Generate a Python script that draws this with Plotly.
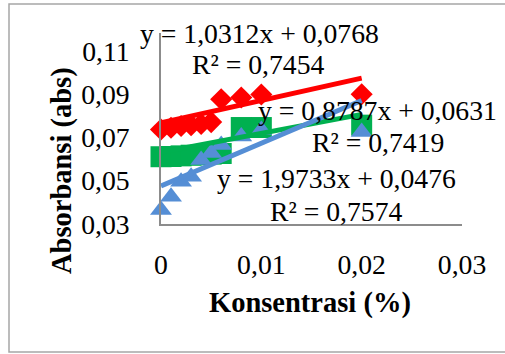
import plotly.graph_objects as go
import numpy as np

conc = [0, 0.001, 0.002, 0.003, 0.004, 0.005, 0.006, 0.008, 0.01, 0.02]
red_abs = [0.0737, 0.0745, 0.0753, 0.0757, 0.0762, 0.0771, 0.0877, 0.0885, 0.0899, 0.0900]
green_abs = [0.0611, 0.0612, 0.0615, 0.0618, 0.0620, 0.0623, 0.0626, 0.0746, 0.0746, 0.0757]
blue_abs = [0.0365, 0.0426, 0.0495, 0.0518, 0.0596, 0.0628, 0.0665, 0.0705, 0.0734, 0.0725]

slopes = [1.0312, 0.8787, 1.9733]
intercepts = [0.0768, 0.0631, 0.0476]
eq_texts = ["y = 1,0312x + 0,0768", "y = 0,8787x + 0,0631", "y = 1,9733x + 0,0476"]
r2_texts = ["R² = 0,7454", "R² = 0,7419", "R² = 0,7574"]

x_ticks = [0, 0.01, 0.02, 0.03]
x_ticktext = ["0", "0,01", "0,02", "0,03"]
y_ticks = [0.03, 0.05, 0.07, 0.09, 0.11]
y_ticktext = ["0,03", "0,05", "0,07", "0,09", "0,11"]

x_title = "Konsentrasi (%)"
y_title = "Absorbansi (abs)"

colors = ["#FF0000", "#00B050", "#558ED5"]
symbols = ["diamond", "square", "triangle-up"]
sizes = [17, 21, 19]
series = [red_abs, green_abs, blue_abs]

FONT = "Liberation Serif, Times New Roman, serif"
FS = 27.7

fig = go.Figure()
for ys, c, s, sz in zip(series, colors, symbols, sizes):
    fig.add_trace(go.Scatter(x=conc, y=ys, mode="markers",
                             marker=dict(symbol=s, size=sz, color=c, line=dict(width=0)),
                             showlegend=False, cliponaxis=False))
xline = np.array([min(conc), max(conc)])
for m, b, c in zip(slopes, intercepts, colors):
    fig.add_trace(go.Scatter(x=xline, y=m * xline + b, mode="lines",
                             line=dict(color=c, width=5), showlegend=False, cliponaxis=False))

# plot area in pixels: x 161..462, y 33..224
L, R, T, B = 161, 462, 33, 224
W, H = R - L, B - T
def px(x):
    return (x - L) / W
def py(y):
    return (B - y) / H

label_pos = [((259, 33), (258, 64)), ((377, 110), (378, 142)), ((336, 178), (336, 211))]
for (e, r), (p1, p2) in zip(zip(eq_texts, r2_texts), label_pos):
    for t, (ax_, ay_) in ((e, p1), (r, p2)):
        fig.add_annotation(x=px(ax_), y=py(ay_), xref="paper", yref="paper", text=t,
                           showarrow=False, xanchor="center", yanchor="middle",
                           font=dict(family=FONT, size=FS, color="black"))

fig.add_annotation(x=px(310), y=py(303), xref="paper", yref="paper", text="<b>" + x_title + "</b>",
                   showarrow=False, xanchor="center", yanchor="middle",
                   font=dict(family=FONT, size=28.5, color="black"))
fig.add_annotation(x=px(62), y=py(171), xref="paper", yref="paper", text="<b>" + y_title + "</b>",
                   showarrow=False, xanchor="center", yanchor="middle", textangle=-90,
                   font=dict(family=FONT, size=28.5, color="black"))

fig.add_shape(type="rect", xref="paper", yref="paper",
              x0=px(9), x1=px(520), y0=py(352), y1=py(4),
              line=dict(color="#A6A6A6", width=1.5), fillcolor="rgba(0,0,0,0)", layer="below")

fig.update_layout(
    width=505, height=354,
    margin=dict(l=L, r=505 - R, t=T, b=354 - B, autoexpand=False),
    plot_bgcolor="white", paper_bgcolor="white",
    font=dict(family=FONT, size=FS, color="black"),
    xaxis=dict(range=[0, 0.03], tickvals=x_ticks, ticktext=x_ticktext, automargin=False,
               showgrid=False, zeroline=False, showline=True, linecolor="#8C8C8C", linewidth=1.5,
               ticks="", ticklabelstandoff=15),
    yaxis=dict(range=[0.03, 0.1183], tickvals=y_ticks, ticktext=y_ticktext, automargin=False,
               showgrid=False, zeroline=False, showline=True, linecolor="#8C8C8C", linewidth=1.5,
               ticks="", ticklabelstandoff=24),
)

fig.write_html("out.html", config={"displayModeBar": False},
               post_script="document.body.style.margin='0';document.body.style.overflow='hidden';")
